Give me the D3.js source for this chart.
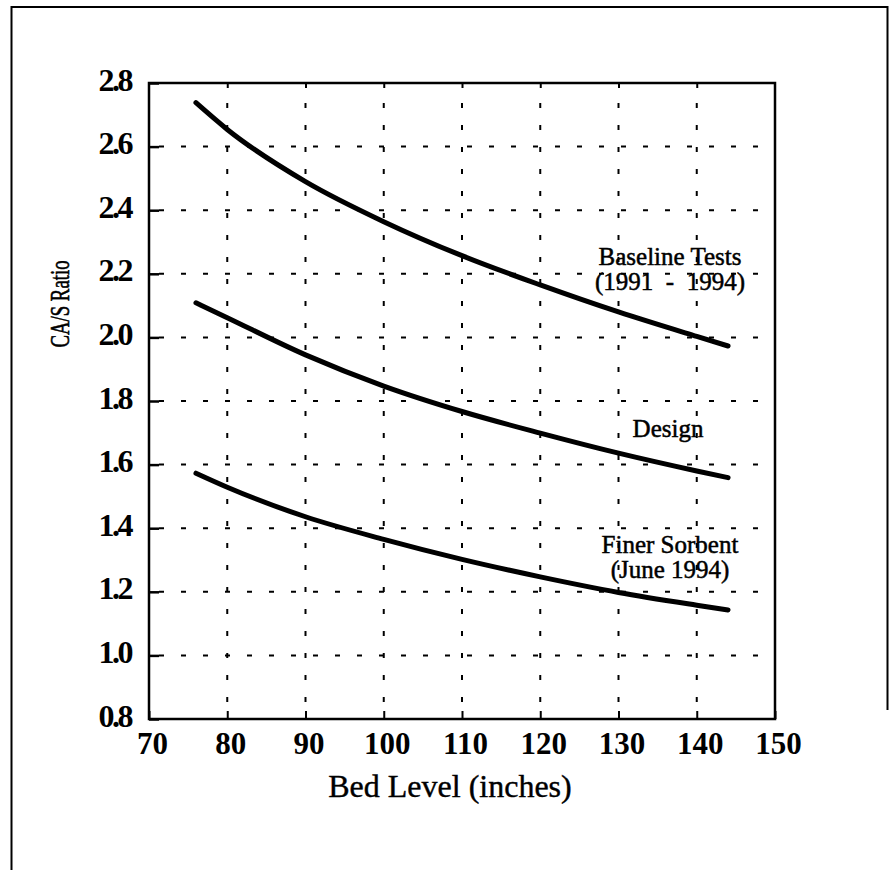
<!DOCTYPE html>
<html>
<head>
<meta charset="utf-8">
<script src="https://cdn.jsdelivr.net/npm/d3@7"></script>
<style>
  body { margin: 0; background: #fff; }
  svg { display: block; }
  text { font-family: "Liberation Serif", serif; fill: #000; }
</style>
</head>
<body>
<svg id="graph"></svg>
<script>
// values
const bedLevel = [76, 80, 90, 100, 110, 120, 130, 140, 144];
const baseline = [2.738, 2.654, 2.49, 2.364, 2.257, 2.165, 2.08, 2.003, 1.973];
const design = [2.109, 2.062, 1.945, 1.847, 1.767, 1.699, 1.636, 1.58, 1.559];
const finer = [1.573, 1.529, 1.436, 1.365, 1.302, 1.247, 1.198, 1.158, 1.143];
const xTicks = [70, 80, 90, 100, 110, 120, 130, 140, 150];
const yTicks = [0.8, 1.0, 1.2, 1.4, 1.6, 1.8, 2.0, 2.2, 2.4, 2.6, 2.8];
const seriesNames = [
  ["Baseline Tests", "(1991\u2002-\u20021994)"],
  ["Design"],
  ["Finer Sorbent", "(June 1994)"]
];

const width = 890;
const height = 870;
const margin = { top: 83, right: 115, bottom: 151, left: 149 };

const svg = d3
  .select("#graph")
  .attr("width", width)
  .attr("height", height)
  .attr("viewBox", [0, 0, width, height]);

const x = d3.scaleLinear().domain([70, 150]).range([margin.left, width - margin.right]);
const y = d3.scaleLinear().domain([0.8, 2.8]).range([height - margin.bottom, margin.top]);

// outer page frame
svg.append("path")
  .attr("d", `M11.5,870 V7 H887.5 V710`)
  .attr("fill", "none")
  .attr("stroke", "#000")
  .attr("stroke-width", 2);

// dashed grid
svg.append("g")
  .attr("stroke", "#000")
  .attr("stroke-width", 2)
  .attr("stroke-dasharray", "5,17")
  .call((g) =>
    g.selectAll("line.v")
      .data(xTicks.slice(1, -1))
      .join("line")
      .attr("class", "v")
      .attr("x1", (d) => x(d))
      .attr("x2", (d) => x(d))
      .attr("y1", y(2.8) + 20)
      .attr("y2", y(0.8))
  )
  .call((g) =>
    g.selectAll("line.h")
      .data(yTicks.slice(1, -1))
      .join("line")
      .attr("class", "h")
      .attr("x1", x(70) + 10)
      .attr("x2", x(150))
      .attr("y1", (d) => y(d))
      .attr("y2", (d) => y(d))
  );

// axes
svg.append("g")
  .attr("transform", `translate(${margin.left},0)`)
  .call(d3.axisLeft(y).tickValues(yTicks).tickSize(-10).tickPadding(18).tickFormat(d3.format(".1f")))
  .call((g) => g.select(".domain").remove())
  .call((g) => g.selectAll(".tick line").attr("stroke-width", 2.5))
  .call((g) =>
    g.selectAll(".tick text")
      .attr("font-size", 32)
      .attr("font-family", "Liberation Serif")
      .attr("font-weight", "bold")
      .attr("letter-spacing", -2.5)
      .attr("dy", 7)
  );

svg.append("g")
  .attr("transform", `translate(0,${height - margin.bottom})`)
  .call(d3.axisBottom(x).tickValues(xTicks).tickSize(-8).tickPadding(13))
  .call((g) => g.select(".domain").remove())
  .call((g) => g.selectAll(".tick line").attr("stroke-width", 2))
  .call((g) =>
    g.selectAll(".tick text")
      .attr("font-size", 31)
      .attr("font-family", "Liberation Serif")
      .attr("font-weight", "bold")
      .attr("dx", 3)
  );

svg.append("g")
  .attr("transform", `translate(0,${margin.top})`)
  .call(d3.axisTop(x).tickValues(xTicks.slice(1, -1)).tickSize(-5).tickFormat(""))
  .call((g) => g.select(".domain").remove())
  .call((g) => g.selectAll(".tick line").attr("stroke-width", 2));

// plot box
svg.append("rect")
  .attr("x", x(70))
  .attr("y", y(2.8))
  .attr("width", x(150) - x(70))
  .attr("height", y(0.8) - y(2.8))
  .attr("fill", "none")
  .attr("stroke", "#000")
  .attr("stroke-width", 2.5);

// curves
const line = d3
  .line()
  .x((d) => x(d[0]))
  .y((d) => y(d[1]))
  .curve(d3.curveMonotoneX);

svg.append("g")
  .selectAll("path")
  .data([baseline, design, finer])
  .join("path")
  .attr("d", (s) => line(bedLevel.map((b, i) => [b, s[i]])))
  .attr("fill", "none")
  .attr("stroke", "#000")
  .attr("stroke-width", 5)
  .attr("stroke-linecap", "round");

// curve labels
const labelPos = [
  [670, 265],
  [668, 437],
  [670, 553]
];
svg.append("g")
  .attr("text-anchor", "middle")
  .attr("font-size", 25)
  .attr("stroke", "#000")
  .attr("stroke-width", 0.5)
  .selectAll("text")
  .data(seriesNames)
  .join("text")
  .attr("x", (d, i) => labelPos[i][0])
  .attr("y", (d, i) => labelPos[i][1])
  .call((t) =>
    t.selectAll("tspan")
      .data((d, i) => d.map((s) => [s, i]))
      .join("tspan")
      .attr("x", (d) => labelPos[d[1]][0])
      .attr("dy", (d, j) => (j === 0 ? 0 : 25))
      .text((d) => d[0])
  );

// axis titles
svg.append("text")
  .attr("x", (x(70) + x(150)) / 2 - 12)
  .attr("y", 797)
  .attr("text-anchor", "middle")
  .attr("font-size", 32)
  .attr("stroke", "#000")
  .attr("stroke-width", 0.4)
  .text("Bed Level (inches)");

svg.append("text")
  .attr("transform", "translate(69,304) rotate(-90) scale(0.67,1)")
  .attr("text-anchor", "middle")
  .attr("font-size", 28)
  .attr("stroke", "#000")
  .attr("stroke-width", 0.6)
  .text("CA/S Ratio");
</script>
</body>
</html>
